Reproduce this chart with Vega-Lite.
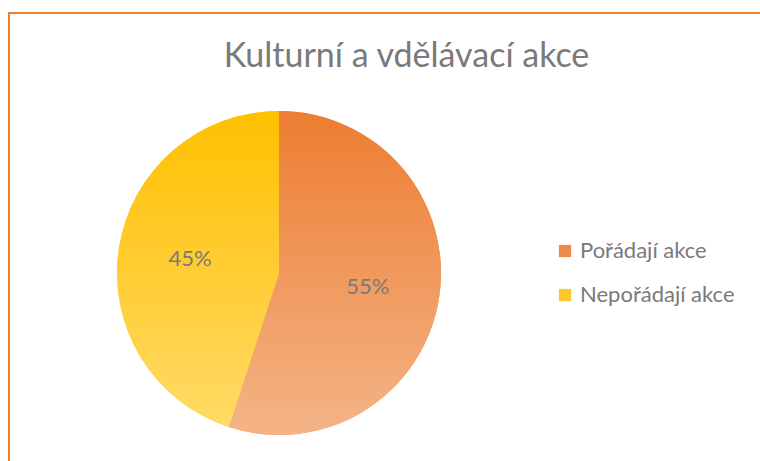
{
  "$schema": "https://vega.github.io/schema/vega-lite/v6.json",
  "autosize": "none",
  "padding": {"left": 9, "top": 13, "right": -2, "bottom": -2},
  "width": 753,
  "height": 450,
  "background": "white",
  "config": {"view": {"stroke": "#ED7D31", "strokeWidth": 2}, "font": "Lato"},
  "title": {
    "text": "Kulturní a vdělávací akce",
    "fontSize": 34,
    "font": "Lato",
    "fontWeight": "normal",
    "color": "#7a7a7a",
    "anchor": "middle",
    "dx": 21,
    "dy": 42,
    "offset": -46,
    "baseline": "alphabetic"
  },
  "data": {
    "values": [
      {"category": "Pořádají akce", "value": 0.55},
      {"category": "Nepořádají akce", "value": 0.45}
    ]
  },
  "encoding": {
    "theta": {"field": "value", "type": "quantitative", "stack": true},
    "order": {"field": "category", "sort": "descending"},
    "x": {"value": 270},
    "y": {"value": 260}
  },
  "layer": [
    {
      "mark": {"type": "arc", "outerRadius": 162},
      "encoding": {
        "color": {
          "field": "category",
          "type": "nominal",
          "scale": {"domain": ["Pořádají akce", "Nepořádají akce"], "range": ["#EE8A4C", "#FFC828"]},
          "legend": {
            "orient": "none",
            "legendX": 545,
            "legendY": 227,
            "title": null,
            "symbolType": "square",
            "symbolSize": 150,
            "symbolStrokeWidth": 0,
            "symbolOpacity": 1,
            "labelFontSize": 22,
            "labelFont": "Lato",
            "labelColor": "#7a7a7a",
            "rowPadding": 22,
            "labelOffset": 4
          }
        }
      }
    },
    {
      "mark": {"type": "arc", "outerRadius": 162},
      "encoding": {
        "fill": {
          "condition": {
            "test": "datum.category === 'Pořádají akce'",
            "value": {"gradient": "linear", "x1": 0, "y1": 0, "x2": 0, "y2": 1,
              "stops": [{"offset": 0, "color": "#ED7D31"}, {"offset": 1, "color": "#F4B487"}]}
          },
          "value": {"gradient": "linear", "x1": 0, "y1": 0, "x2": 0, "y2": 1,
            "stops": [{"offset": 0, "color": "#FFC000"}, {"offset": 1, "color": "#FFDA66"}]}
        }
      }
    },
    {
      "mark": {"type": "text", "radius": 90, "fontSize": 22, "font": "Lato", "color": "#7a7a7a"},
      "encoding": {
        "text": {"field": "value", "type": "quantitative", "format": ".0%"}
      }
    }
  ]
}
